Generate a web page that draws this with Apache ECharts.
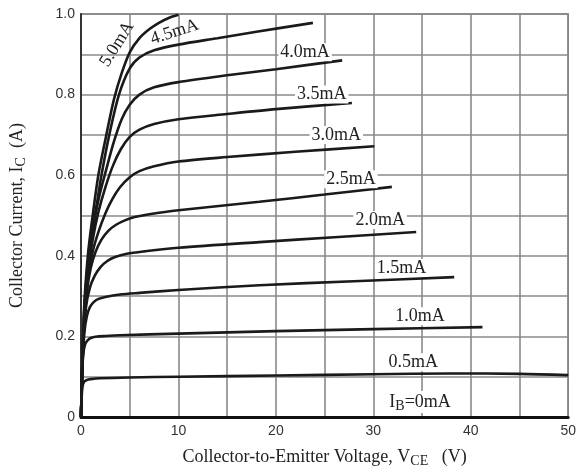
<!DOCTYPE html>
<html><head><meta charset="utf-8">
<script src="https://cdn.jsdelivr.net/npm/echarts@6/dist/echarts.min.js"></script>
<style>html,body{margin:0;padding:0;background:#fff}#c{width:579px;height:474px}</style>
</head><body><div id="c"></div>
<script>
// Base currents (curve names)
const ibNames = ['0.5mA','1.0mA','1.5mA','2.0mA','2.5mA','3.0mA','3.5mA','4.0mA','4.5mA','5.0mA'];
// VCE (V) / IC (A) per curve
const v05 = [0,0.05,0.15,0.3,0.6,1,2,5,10,20,30,38,45,50];
const i05 = [0,0.04,0.075,0.087,0.092,0.094,0.096,0.098,0.1,0.103,0.106,0.108,0.107,0.104];
const v10 = [0,0.1,0.25,0.45,0.7,1,1.5,2.5,4,10,20,30,41.2];
const i10 = [0,0.1,0.16,0.182,0.191,0.196,0.199,0.201,0.203,0.207,0.213,0.218,0.223];
const v15 = [0,0.15,0.35,0.6,0.9,1.3,1.8,2.5,4,6,10,18.3,28,38.3];
const i15 = [0,0.13,0.21,0.25,0.272,0.285,0.293,0.298,0.304,0.308,0.315,0.327,0.337,0.347];
const v20 = [0,0.2,0.5,0.9,1.4,2,2.7,3.5,4.7,6.5,10,18.3,26,34.4];
const i20 = [0,0.17,0.27,0.32,0.35,0.372,0.387,0.397,0.405,0.411,0.42,0.434,0.446,0.459];
const v25 = [0,0.25,0.6,1,1.5,2.1,2.8,3.6,4.5,5.5,7,10,18.3,25,31.9];
const i25 = [0,0.2,0.31,0.37,0.41,0.44,0.462,0.477,0.488,0.496,0.503,0.513,0.534,0.552,0.571];
const v30 = [0,0.3,0.7,1.2,1.8,2.5,3.2,4,5,6,7.5,10,15,22,30.1];
const i30 = [0,0.22,0.34,0.41,0.46,0.505,0.54,0.57,0.595,0.61,0.622,0.634,0.645,0.658,0.672];
const v35 = [0,0.3,0.7,1.2,1.8,2.5,3.3,4.1,5,6,7.5,10,15,20,27.8];
const i35 = [0,0.23,0.36,0.44,0.51,0.57,0.625,0.665,0.695,0.713,0.727,0.739,0.752,0.764,0.779];
const v40 = [0,0.3,0.7,1.2,1.8,2.6,3.4,4.2,5,6,7.5,10,15,20,26.8];
const i40 = [0,0.24,0.37,0.46,0.54,0.615,0.685,0.74,0.775,0.8,0.818,0.831,0.848,0.863,0.885];
const v45 = [0,0.3,0.7,1.2,1.7,2.1,2.9,3.9,5,6,7.5,10,14,18,23.8];
const i45 = [0,0.25,0.38,0.47,0.54,0.6,0.7,0.8,0.865,0.892,0.91,0.924,0.94,0.956,0.978];
const v50 = [0,0.3,0.7,1.2,1.8,2.6,3.4,4.2,5,6,7,8,9,10];
const i50 = [0,0.26,0.4,0.5,0.603,0.7,0.79,0.855,0.905,0.94,0.962,0.978,0.99,0.998];
// Curve label anchor positions (data coords) and rotation
const labelTexts = ['{t|0.5mA}','{t|1.0mA}','{t|1.5mA}','{t|2.0mA}','{t|2.5mA}','{t|3.0mA}','{t|3.5mA}','{t|4.0mA}','{t|4.5mA}','{t|5.0mA}','{t|I}{s|B}{t|=0mA}'];
const labelV = [34.1,34.8,32.9,30.7,27.7,26.2,24.7,23,9.6,3.7,34.8];
const labelI = [0.136,0.25,0.37,0.489,0.59,0.70,0.80,0.905,0.955,0.925,0.037];
const labelRot = [0,0,0,0,0,0,0,0,18,58,0];
// Axis ticks
const xMin = 0, xMax = 50, xStep = 5;
const yMin = 0, yMax = 1.0, yStep = 0.1;

const curvesV = [v05,v10,v15,v20,v25,v30,v35,v40,v45,v50];
const curvesI = [i05,i10,i15,i20,i25,i30,i35,i40,i45,i50];

const serif = '"Liberation Serif","DejaVu Serif",serif';
const rich = {
  t:{fontFamily:serif,fontSize:18,color:'#222'},
  s:{fontFamily:serif,fontSize:14,color:'#222',padding:[8,0,0,0]}
};

const series = curvesV.map((vs,k)=>({
  type:'line', name:ibNames[k], smooth:0.3, showSymbol:false, symbol:'none',
  lineStyle:{color:'#1a1a1a',width:2.6},
  data: vs.map((v,j)=>[v,curvesI[k][j]]),
  z:3
}));
series.push({
  type:'line', data:[], silent:true,
  markPoint:{
    symbol:'circle', symbolSize:0, silent:true,
    data: labelTexts.map((t,k)=>({
      coord:[labelV[k],labelI[k]],
      label:{show:true,position:'inside',formatter:t,rich:rich,rotate:labelRot[k],
        backgroundColor: labelRot[k]===0 ? '#fff' : 'transparent', padding:[0,2,0,2]}
    }))
  },
  z:5
});

const chart = echarts.init(document.getElementById('c'),null,{renderer:'canvas'});
chart.setOption({
  animation:false,
  backgroundColor:'#fff',
  grid:{left:81,top:14,width:488,height:403,show:true,borderColor:'#777',borderWidth:1.5},
  xAxis:{type:'value',min:xMin,max:xMax,interval:xStep,
    axisLine:{show:true,lineStyle:{color:'#111',width:3}},
    axisTick:{show:false},
    splitLine:{show:true,lineStyle:{color:'#8a8a8a',width:1.6}},
    axisLabel:{color:'#333',fontFamily:'"Liberation Sans",Arial,sans-serif',fontSize:14,margin:7,
      formatter:v=> (Math.round(v)%10===0 ? String(Math.round(v)) : '')},
    name:'{t|Collector-to-Emitter Voltage, V}{s|CE}{t|   (V)}',
    nameLocation:'middle',nameGap:29,
    nameTextStyle:{rich:rich}
  },
  yAxis:{type:'value',min:yMin,max:yMax,interval:yStep,
    axisLine:{show:true,lineStyle:{color:'#333',width:2}},
    axisTick:{show:false},
    splitLine:{show:true,lineStyle:{color:'#8a8a8a',width:1.6}},
    axisLabel:{color:'#333',fontFamily:'"Liberation Sans",Arial,sans-serif',fontSize:14,margin:6,
      formatter:v=>{const n=Math.round(v*10); if(n%2!==0) return ''; return n===0?'0':(n/10).toFixed(1);}},
    name:'{t|Collector Current, I}{s|C}{t|  (A)}',
    nameLocation:'middle',nameGap:53,nameRotate:90,
    nameTextStyle:{rich:rich}
  },
  series:series
});
</script>
</body></html>
